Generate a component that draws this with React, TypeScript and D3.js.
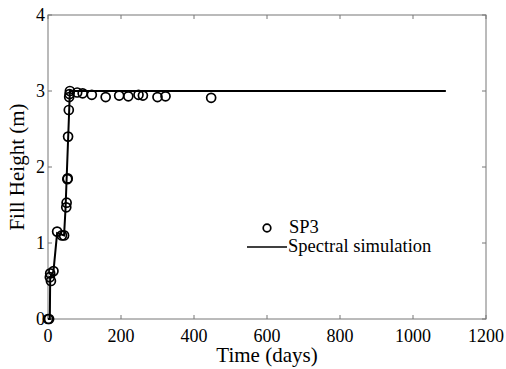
import React from 'react';
import * as d3 from 'd3';

// measured fill heights (SP3)
const obsDays = [0, 3, 5, 6, 8, 15, 25, 38, 44, 50, 51, 53, 54, 55, 57, 58, 59, 60, 80, 95, 120, 158, 195, 220, 248, 260, 300, 322, 447];
const obsHeight = [0, 0, 0.55, 0.6, 0.5, 0.63, 1.15, 1.1, 1.1, 1.47, 1.53, 1.84, 1.85, 2.4, 2.75, 2.92, 2.96, 3.0, 2.98, 2.97, 2.95, 2.92, 2.94, 2.93, 2.95, 2.94, 2.92, 2.93, 2.91];

// spectral simulation curve
const simDays = [0, 5, 6, 15, 25, 44, 48, 60, 1090];
const simHeight = [0, 0, 0.55, 0.63, 1.13, 1.1, 1.45, 3.0, 3.0];

const xTicks = [0, 200, 400, 600, 800, 1000, 1200];
const yTicks = [0, 1, 2, 3, 4];

const width = 506;
const height = 369;
const margin = { top: 15, right: 20, bottom: 50, left: 48 };

const App = () => {
  const x = d3.scaleLinear().domain([0, 1200]).range([margin.left, width - margin.right]);
  const y = d3.scaleLinear().domain([0, 4]).range([height - margin.bottom, margin.top]);
  const font = { fontFamily: "'Liberation Serif', 'DejaVu Serif', serif" };
  const axisColor = '#777';

  const line = d3
    .line<number>()
    .x((d, i) => x(simDays[i]))
    .y((d) => y(d));

  const x0 = x(0), x1 = x(1200), y0 = y(0), y1 = y(4);

  return (
    <svg width={width} height={height} style={{ position: 'absolute', left: 0, top: 0, background: '#fff' }}>
      <rect x={x0} y={y1} width={x1 - x0} height={y0 - y1} fill="none" stroke={axisColor} strokeWidth={1} />
      {xTicks.map((t) => (
        <g key={'x' + t}>
          <line x1={x(t)} x2={x(t)} y1={y0} y2={y0 - 4} stroke={axisColor} />
          <line x1={x(t)} x2={x(t)} y1={y1} y2={y1 + 4} stroke={axisColor} />
          <text x={x(t)} y={y0 + 23} textAnchor="middle" style={font} fontSize={18}>
            {t}
          </text>
        </g>
      ))}
      {yTicks.map((t) => (
        <g key={'y' + t}>
          <line x1={x0} x2={x0 + 4} y1={y(t)} y2={y(t)} stroke={axisColor} />
          <line x1={x1} x2={x1 - 4} y1={y(t)} y2={y(t)} stroke={axisColor} />
          <text x={x0 - 3} y={y(t) + 6} textAnchor="end" style={font} fontSize={18}>
            {t}
          </text>
        </g>
      ))}
      <path d={line(simHeight) || ''} fill="none" stroke="#000" strokeWidth={2} />
      {obsDays.map((d, i) => (
        <circle key={i} cx={x(d)} cy={y(obsHeight[i])} r={4.5} fill="none" stroke="#000" strokeWidth={1.7} />
      ))}
      <text x={(x0 + x1) / 2} y={362} textAnchor="middle" style={font} fontSize={21}>
        Time (days)
      </text>
      <text
        transform={`translate(${24},${(y0 + y1) / 2}) rotate(-90)`}
        textAnchor="middle"
        style={font}
        fontSize={21}
      >
        Fill Height (m)
      </text>
      {/* legend */}
      <circle cx={267} cy={228} r={3.8} fill="none" stroke="#000" strokeWidth={1.7} />
      <text x={289} y={233} style={font} fontSize={18.5}>SP3</text>
      <line x1={247} x2={287} y1={247} y2={247} stroke="#000" strokeWidth={1.5} />
      <text x={288} y={252} style={font} fontSize={18.5}>Spectral simulation</text>
    </svg>
  );
};

export default App;
